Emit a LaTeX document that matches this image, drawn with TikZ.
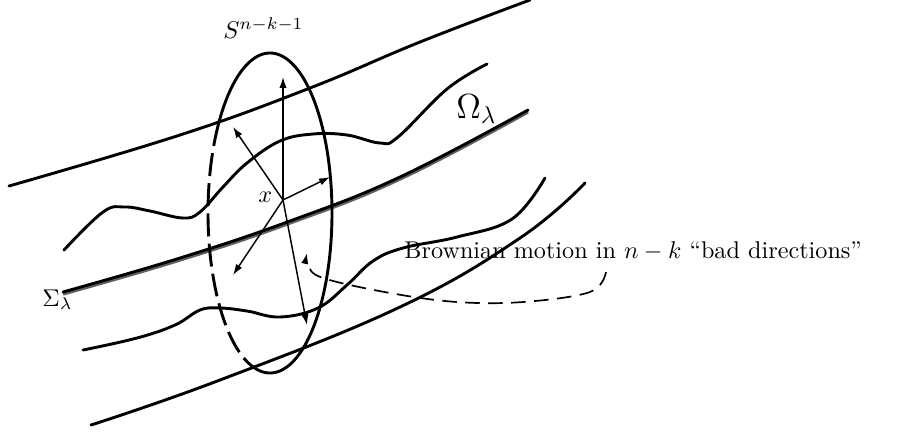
\documentclass[tikz,border=0pt]{standalone}
\usetikzlibrary{arrows.meta}
\begin{document}
\begin{tikzpicture}[x=0.4132pt,y=-0.4132pt,
  curve/.style={line width=1.2pt, line join=round, line cap=round},
  vec/.style={line width=0.6pt, -{Latex[length=4.5pt,width=3pt]}},
  lbl/.style={inner sep=0pt, anchor=base west}]
\useasboundingbox (0,0) rectangle (905,435);

% top outer curve
\draw[curve] plot[smooth, tension=0.7] coordinates {(9,186) (180,135) (310,88) (420,42) (530,0)};
% upper wavy curve
\draw[curve] plot[smooth, tension=0.65] coordinates {(64,250) (103,212) (125,207) (150,211) (183,218) (200,212) (223,187) (247,163) (280,141) (313,134) (347,135) (380,143) (398,137) (447,89) (487,64)};
% Sigma lambda (double line)
\draw[line width=1.4pt, gray!75!black, yshift=-0.8pt] plot[smooth, tension=0.7] coordinates {(63,292) (180,258) (290,221) (400,177) (528,110)};
\draw[curve] plot[smooth, tension=0.7] coordinates {(63,292) (180,258) (290,221) (400,177) (528,110)};
% lower wavy curve
\draw[curve] plot[smooth, tension=0.65] coordinates {(83,350) (137,338) (175,325) (200,310) (220,308) (247,311) (280,317) (318,308) (347,285) (373,261) (403,248) (457,237) (512,219) (545,178)};
% bottom outer curve
\draw[curve] plot[smooth, tension=0.7] coordinates {(91,425) (220,380) (400,307) (520,238) (585,183)};

% sphere S^{n-k-1}
\draw[curve] plot[domain=-106:146, samples=120] ({270+62*cos(\x)}, {213-160*sin(\x)});
\draw[curve, line cap=butt, dash pattern=on 9.5pt off 3pt] plot[domain=146:254, samples=60] ({270+62*cos(\x)}, {213-160*sin(\x)});

% vectors from x
\coordinate (o) at (283,200);
\coordinate (up) at (283,77);
\coordinate (ul) at (233,127);
\coordinate (rt) at (330,177);
\coordinate (dl) at (233,275);
\coordinate (dn) at (307,325);
\foreach \t in {up,ul,rt,dl,dn} \draw[vec] (o) -- (\t);

% dashed pointer
\draw[line width=0.7pt, dash pattern=on 6pt off 3.5pt, -{Latex[length=4.5pt,width=3pt]}] plot[smooth, tension=0.6] coordinates {(606,272) (590,292) (523,302) (457,302) (390,293) (323,278) (308,265) (307,253)};

% labels
\node[lbl] (S) at (223,38) {$S^{n-k-1}$};
\node[lbl] (Om) at (456,118) {\Large $\Omega_\lambda$};
\node[lbl] (Sig) at (42,306) {$\Sigma_\lambda$};
\node[lbl] (xl) at (258,202) {$x$};
\node[lbl] (bm) at (404,258) {Brownian motion in $n-k$ ``bad directions''};
\end{tikzpicture}
\end{document}
